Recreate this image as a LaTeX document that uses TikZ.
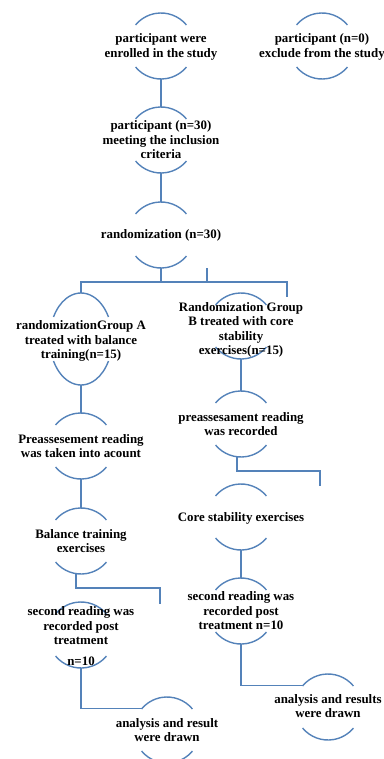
\documentclass[tikz,border=0pt]{standalone}
\usepackage{fontspec}
\setmainfont{Liberation Serif}
\usetikzlibrary{shapes.geometric,calc}
\definecolor{linec}{RGB}{84,130,185}
\newcommand\twoarcs[4]{%
 \draw[arcline] ([shift={(#4:#2 and #3)}]#1.center) arc[start angle=#4, end angle=180-#4, x radius=#2, y radius=#3];
 \draw[arcline] ([shift={(180+#4:#2 and #3)}]#1.center) arc[start angle=180+#4, end angle=360-#4, x radius=#2, y radius=#3];}
\tikzset{
 arcline/.style={draw=linec, line width=1.4pt},
 conn/.style={draw=linec, line width=1.4pt},
 circ/.style={ellipse, draw=none, inner sep=0pt, outer sep=0pt, minimum width=66pt, minimum height=66pt},
 tall/.style={ellipse, draw=none, inner sep=0pt, outer sep=0pt, minimum width=62.6pt, minimum height=92pt},
 txt/.style={align=center, inner sep=0pt, font=\fontsize{12.9}{14.5}\selectfont\bfseries}
}
\begin{document}
\begin{tikzpicture}[x=1pt,y=-1pt]
\useasboundingbox (0,0) rectangle (383,759);
% ellipse nodes
\node[circ] (e1) at (161,46) {};
\node[circ] (e2) at (322,46) {};
\node[circ] (e3) at (161,140) {};
\node[circ] (e4) at (161,235) {};
\node[tall] (eA) at (81,339) {};
\node[circ] (eB) at (241,326) {};
\node[circ] (ePA) at (81,446) {};
\node[circ] (ePB) at (241,424) {};
\node[circ] (eBT) at (81,541) {};
\node[circ] (eCS) at (241,517) {};
\node[circ] (eSA) at (81,635) {};
\node[circ] (eSB) at (241,611) {};
\node[circ] (eAA) at (167,730) {};
\node[circ] (eAB) at (328,707) {};
% arcs
\twoarcs{e1}{33pt}{33pt}{39.5}
\twoarcs{e2}{33pt}{33pt}{39.5}
\twoarcs{e3}{33pt}{33pt}{39.5}
\twoarcs{e4}{33pt}{33pt}{39.5}
\twoarcs{eA}{31.3pt}{46pt}{28.6}
\twoarcs{eB}{33pt}{33pt}{39.5}
\twoarcs{ePA}{33pt}{33pt}{39.5}
\twoarcs{ePB}{33pt}{33pt}{39.5}
\twoarcs{eBT}{33pt}{33pt}{39.5}
\twoarcs{eCS}{33pt}{33pt}{39.5}
\twoarcs{eSA}{33pt}{33pt}{39.5}
\twoarcs{eSB}{33pt}{33pt}{39.5}
\twoarcs{eAA}{33pt}{33pt}{39.5}
\twoarcs{eAB}{33pt}{33pt}{39.5}
% texts
\node[txt] (t1) at (161,47) {participant were\\enrolled in the study};
\node[txt] (t2) at (322,47) {participant (n=0)\\exclude from the study};
\node[txt] (t3) at (161,140) {participant (n=30)\\meeting the inclusion\\criteria};
\node[txt] (t4) at (161,235) {randomization (n=30)};
\node[txt] (tA) at (81,341) {randomizationGroup A\\treated with balance\\training(n=15)};
\node[txt] (tB) at (241,330) {Randomization Group\\B treated with core\\stability\\exercises(n=15)};
\node[txt] (tPA) at (81,446) {Preassesement reading\\was taken into acount};
\node[txt] (tPB) at (241,424) {preassesament reading\\was recorded};
\node[txt] (tBT) at (81,541) {Balance training\\exercises};
\node[txt] (tCS) at (241,518) {Core stability exercises};
\node[txt] (tSA) at (81,636) {second reading was\\recorded post\\treatment\\[6pt]n=10};
\node[txt] (tSB) at (241,611) {second reading was\\recorded post\\treatment n=10};
\node[txt] (tAA) at (167,730) {analysis and result\\were drawn};
\node[txt] (tAB) at (328,706) {analysis and results\\were drawn};
% free ends
\coordinate (jL) at (81,282);
\coordinate (jR) at (287,282);
\coordinate (stub) at (207,268);
\coordinate (freeB) at (287,297);
\coordinate (fBT1) at (160,588);
\coordinate (fBT2) at (160,604);
\coordinate (fPB1) at (320,471);
\coordinate (fPB2) at (320,486);
% connectors
\draw[conn] (e1.south) -- (e3.north);
\draw[conn] (e3.south) -- (e4.north);
\draw[conn] (e4.south) |- (jL) -- (eA.north);
\draw[conn] (jL) -- (jR) -- (freeB);
\draw[conn] (stub) -- (stub |- jL);
\draw[conn] (eA.south) -- (ePA.north);
\draw[conn] (ePA.south) -- (eBT.north);
\draw[conn] ([xshift=-5pt]eBT.south) |- (fBT1) -- (fBT2);
\draw[conn] (eSA.south) |- (eAA.140);
\draw[conn] (eB.south) -- (ePB.north);
\draw[conn] ([xshift=-4pt]ePB.south) |- (fPB1) -- (fPB2);
\draw[conn] (eCS.south) -- (eSB.north);
\draw[conn] (eSB.south) |- (eAB.140);
\end{tikzpicture}
\end{document}
